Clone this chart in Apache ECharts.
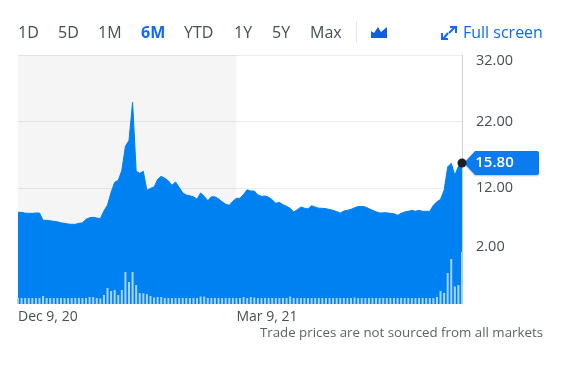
<!DOCTYPE html>
<html>
<head>
<meta charset="utf-8">
<style>html,body{margin:0;padding:0;background:#fff}#c{width:566px;height:366px}</style>
<script src="https://cdn.jsdelivr.net/npm/echarts@6/dist/echarts.min.js"></script>
</head>
<body>
<div id="c"></div>
<script>
const rangeButtons = ['1D','5D','1M','6M','YTD','1Y','5Y','Max'];
const rangeX = [18,58,98,141,184,234,272,310];
const yTicks = [2,12,22,32];
const dateLabels = {0:'Dec 9, 20', 61:'Mar 9, 21'};
const closePrice = 15.80;
const prices = [
8.40,8.40,8.28,8.25,8.25,8.30,8.30,7.20,7.20,7.12,7.05,6.98,6.82,6.75,6.65,6.60,6.60,6.75,6.82,7.35,
7.60,7.65,7.55,7.45,8.60,9.50,11.40,12.90,13.20,14.70,18.30,19.20,24.90,14.55,14.25,14.55,11.70,12.00,12.20,13.35,
13.80,13.50,13.12,12.45,12.95,12.15,11.32,11.00,10.88,10.72,10.38,11.30,10.80,10.15,10.72,10.72,10.42,9.98,9.63,9.45,
10.05,10.50,10.50,11.10,11.78,11.60,11.60,11.02,10.80,10.85,10.65,10.28,9.75,9.90,9.53,9.30,9.00,8.45,8.78,9.20,
9.03,8.90,9.40,9.18,9.03,9.00,8.95,8.82,8.70,8.52,8.28,8.60,8.70,8.85,9.08,9.27,9.30,9.20,8.95,8.70,
8.48,8.30,8.33,8.33,8.25,8.18,7.95,8.25,8.45,8.55,8.70,8.55,8.70,8.55,8.55,8.55,9.45,9.98,10.35,11.70,
15.20,15.75,13.95,15.30,15.80];
const volumes = [
.6,.6,.6,.6,.6,.6,.6,.8,.6,.6,.6,.6,.6,.6,.6,.6,.6,.6,.6,.6,
.7,.7,.6,.55,.9,1.6,1.3,1.4,.9,1.4,3.2,2.2,3.2,1.9,1.1,1.07,1.0,.8,.65,.7,
.7,.6,.6,.6,.6,.6,.6,.6,.6,.6,.6,.75,.75,.6,.6,.6,.6,.6,.6,.6,
.6,.6,.6,.7,.6,.7,.65,.6,.6,.6,.6,.6,.6,.6,.6,.6,.75,.6,.6,.6,
.6,.6,.6,.6,.6,.6,.6,.6,.6,.6,.6,.6,.6,.6,.65,.6,.6,.6,.6,.6,
.6,.6,.6,.6,.6,.6,.6,.6,.6,.6,.6,.6,.6,.6,.6,.6,.6,.7,1.3,1.1,
3.1,4.5,1.75,1.9,5.2];
const categories = prices.map((_, i) => dateLabels[i] || String(i));

const TXT = '#464e56', BLUE = '#0f69ff', AREA = '#0081f2';
const FONT = '"Open Sans", "Noto Sans", sans-serif';

const graphics = rangeButtons.map((t, i) => ({
  type:'text', left:rangeX[i], top:25,
  style:{text:t, font:(t==='6M'?'700 ':'400 ')+'16px '+FONT, fill:t==='6M'?BLUE:TXT}
}));
const arrow = (pts) => ({type:'polyline', shape:{points:pts}, style:{stroke:BLUE, lineWidth:2, fill:'none'}});
graphics.push(
  {type:'rect', shape:{x:356,y:21,width:1,height:22}, style:{fill:'#e6e6e6'}},
  {type:'polygon', shape:{points:[[371,31],[374,33],[378,27],[381,32],[387,27],[387,38],[371,38]]}, style:{fill:'#0f5fe0'}},
  arrow([[449,33],[455,27]]), arrow([[450,27],[456,27],[456,33]]),
  arrow([[448,33],[443,39]]), arrow([[442,33],[442,39],[448,39]]),
  {type:'text', left:463, top:25, style:{text:'Full screen', font:'400 16px '+FONT, fill:BLUE}},
  {type:'text', right:23, top:327, style:{text:'Trade prices are not sourced from all markets', font:'400 13.3px '+FONT, fill:'#5b636a'}}
);

const labelStyle = {fontSize:14.5, fontFamily:FONT, color:TXT};
const chart = echarts.init(document.getElementById('c'), null, {renderer:'canvas'});
chart.setOption({
  animation:false,
  backgroundColor:'#fff',
  grid:{left:18, top:55, width:444, height:249, containLabel:false},
  graphic:graphics,
  xAxis:{
    type:'category', data:categories, boundaryGap:false,
    axisLine:{show:false}, axisTick:{show:false}, splitLine:{show:false},
    axisLabel:{
      interval:0, align:'left', margin:6, fontSize:14, fontFamily:FONT, color:TXT,
      formatter:(v)=>/,/.test(v)?v:''
    }
  },
  yAxis:[{
    type:'value', position:'right', min:-5.35, max:32,
    axisLine:{show:true, lineStyle:{color:'#cfcfcf', width:1}},
    axisTick:{show:false, customValues:yTicks},
    splitLine:{show:true, lineStyle:{color:'#ececec', width:1}},
    axisLabel:{
      customValues:yTicks, margin:14, ...labelStyle,
      formatter:(v)=>{
        const s = v.toFixed(2);
        return v===32 ? '{d|'+s+'}' : v===2 ? '{u|'+s+'}' : '{n|'+s+'}';
      },
      rich:{
        n:{...labelStyle},
        d:{...labelStyle, padding:[11,0,0,0]},
        u:{...labelStyle, padding:[0,0,16,0]}
      }
    }
  },{
    type:'value', min:0, max:24.9, show:false
  }],
  series:[{
    type:'line', data:prices, yAxisIndex:0, symbol:'none', smooth:false, z:2, silent:true,
    lineStyle:{color:AREA, width:1},
    areaStyle:{color:AREA, opacity:1, origin:'start'},
    markArea:{silent:true, itemStyle:{color:'rgba(0,0,0,0.04)'}, data:[[{xAxis:categories[0]},{xAxis:categories[61]}]]},
    markPoint:{
      silent:true, animation:false,
      data:[
        {coord:[categories[124],closePrice], symbol:'path://M0,12 L11,0 L73,0 Q75,0 75,2 L75,22 Q75,24 73,24 L11,24 Z',
         symbolSize:[75,24], symbolOffset:[39.5,0], itemStyle:{color:'#0a7cf0', shadowBlur:2, shadowColor:'rgba(0,0,0,0.25)', shadowOffsetY:1},
         label:{show:true, position:'inside', offset:[-7,0], formatter:closePrice.toFixed(2), color:'#fff', fontSize:15, fontWeight:600, fontFamily:FONT}},
        {coord:[categories[124],closePrice], symbol:'circle', symbolSize:9, itemStyle:{color:'#1d1f22'}, label:{show:false}}
      ]
    }
  },{
    type:'bar', data:volumes, yAxisIndex:1, barWidth:2, z:3, silent:true,
    itemStyle:{color:'#a6d4fb'}
  }]
});
</script>
</body>
</html>
